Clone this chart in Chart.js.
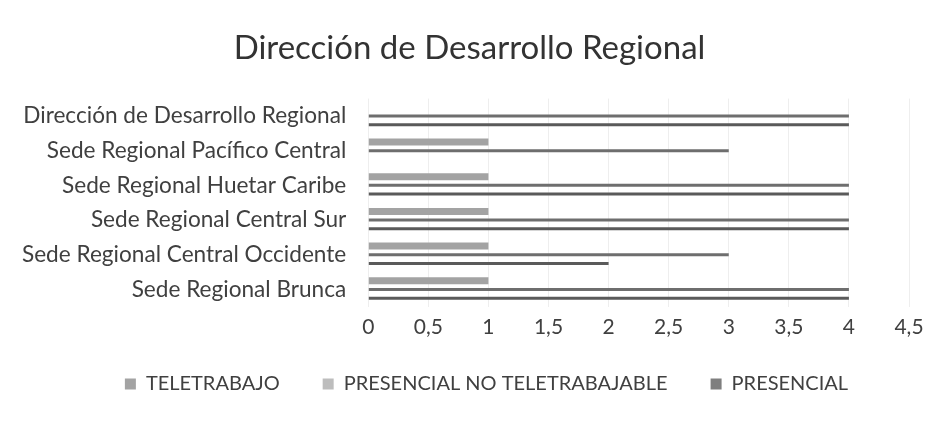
<!DOCTYPE html>
<html>
<head>
<meta charset="utf-8">
<script src="https://cdn.jsdelivr.net/npm/chart.js@4/dist/chart.umd.min.js"></script>
<style>
  html, body { margin: 0; padding: 0; background: #ffffff; }
  #wrap { width: 944px; height: 422px; }
</style>
</head>
<body>
<div id="wrap"><canvas id="chart" width="944" height="422"></canvas></div>
<script>
var categories = [
  "Dirección de Desarrollo Regional",
  "Sede Regional Pacífico Central",
  "Sede Regional Huetar Caribe",
  "Sede Regional Central Sur",
  "Sede Regional Central Occidente",
  "Sede Regional Brunca"
];

var teletrabajo = [0, 1, 1, 1, 1, 1];
var presencialNoTeletrabajable = [4, 3, 4, 4, 3, 4];
var presencial = [4, 0, 4, 4, 2, 4];

var xTicks = [0, 0.5, 1, 1.5, 2, 2.5, 3, 3.5, 4, 4.5];

var textColor = "#404040";
var fontName = "Lato, 'Open Sans', sans-serif";

// nudge title and legend so they sit where the scanned chart has them
var boxShift = {
  id: "boxShift",
  afterLayout: function (chart) {
    chart.titleBlock.left += 15;
    chart.titleBlock.right += 15;
    chart.legend.left += 32;
    chart.legend.right += 32;
    chart.legend.top -= 17;
    chart.legend.bottom -= 17;
  }
};

new Chart(document.getElementById("chart"), {
  type: "bar",
  data: {
    labels: categories,
    datasets: [
      {
        label: "TELETRABAJO",
        data: teletrabajo,
        backgroundColor: "#a3a3a3",
        maxBarThickness: 7
      },
      {
        label: "PRESENCIAL NO TELETRABAJABLE",
        data: presencialNoTeletrabajable,
        backgroundColor: "#6e6e6e",
        maxBarThickness: 3
      },
      {
        label: "PRESENCIAL",
        data: presencial,
        backgroundColor: "#5a5a5a",
        maxBarThickness: 3
      }
    ]
  },
  plugins: [boxShift],
  options: {
    indexAxis: "y",
    responsive: false,
    animation: false,
    datasets: {
      bar: { categoryPercentage: 0.75, barPercentage: 1 }
    },
    layout: { padding: { left: 0, right: 35, top: 0, bottom: 1 } },
    plugins: {
      title: {
        display: true,
        text: "Dirección de Desarrollo Regional",
        color: "#333333",
        font: { family: fontName, size: 33, weight: "normal" },
        padding: { top: 29, bottom: 30 }
      },
      legend: {
        position: "bottom",
        labels: {
          color: textColor,
          font: { family: fontName, size: 20 },
          boxWidth: 11,
          boxHeight: 11,
          padding: 43,
          generateLabels: function (chart) {
            var swatches = ["#a3a3a3", "#bdbdbd", "#7f7f7f"];
            return chart.data.datasets.map(function (ds, i) {
              return {
                text: ds.label,
                fillStyle: swatches[i],
                strokeStyle: swatches[i],
                lineWidth: 0,
                fontColor: textColor,
                datasetIndex: i
              };
            });
          }
        }
      },
      tooltip: { enabled: false }
    },
    scales: {
      x: {
        min: 0,
        max: 4.5,
        afterBuildTicks: function (axis) {
          axis.ticks = xTicks.map(function (v) { return { value: v }; });
        },
        ticks: {
          color: textColor,
          font: { family: fontName, size: 21 },
          padding: 8,
          callback: function (v) { return String(v).replace(".", ","); }
        },
        grid: { color: "#eeeeee", drawTicks: false },
        border: { display: false }
      },
      y: {
        ticks: {
          color: textColor,
          font: { family: fontName, size: 22.6 },
          padding: 22
        },
        grid: { display: false, drawTicks: false },
        border: { display: false }
      }
    }
  }
});
</script>
</body>
</html>
